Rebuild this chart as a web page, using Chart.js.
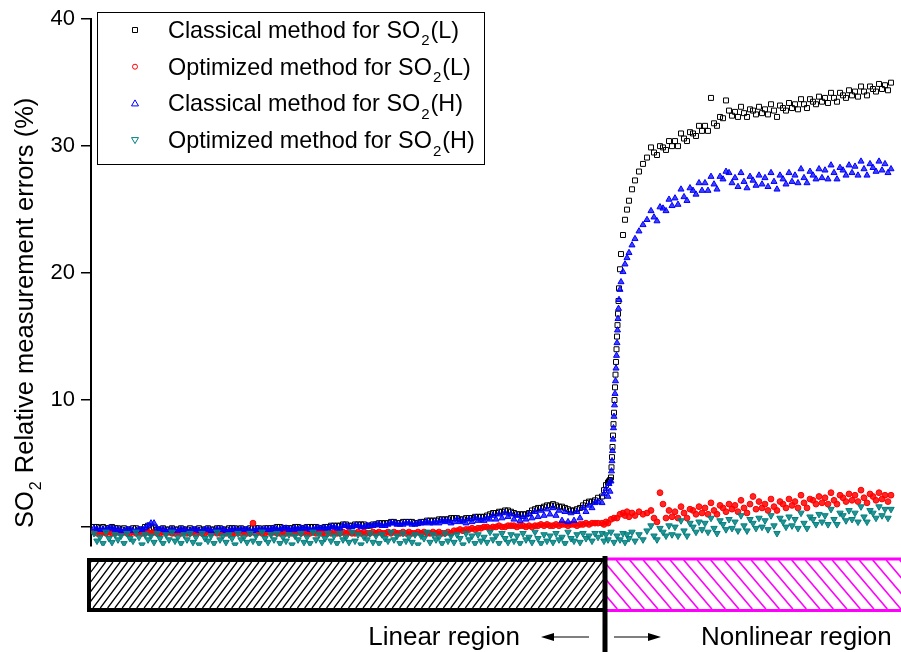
<!DOCTYPE html>
<html>
<head>
<meta charset="utf-8">
<title>SO2 relative measurement errors</title>
<script src="https://cdn.jsdelivr.net/npm/chart.js@4/dist/chart.umd.min.js"></script>
<style>
  html, body { margin: 0; padding: 0; background: #fff; }
  #wrap { width: 901px; height: 652px; }
</style>
</head>
<body>
<div id="wrap"><canvas id="errChart" width="901" height="652"></canvas></div>
<script>
// sample number along the measurement (x)
const sampleNo = [
  3, 6, 9, 12, 15, 18, 21, 24, 27, 30,
  33, 36, 39, 42, 45, 48, 51, 54, 57, 60,
  63, 66, 69, 72, 75, 78, 81, 84, 87, 90,
  93, 96, 99, 102, 105, 108, 111, 114, 117, 120,
  123, 126, 129, 132, 135, 138, 141, 144, 147, 150,
  153, 156, 159, 162, 165, 168, 171, 174, 177, 180,
  183, 186, 189, 192, 195, 198, 201, 204, 207, 210,
  213, 216, 219, 222, 225, 228, 231, 234, 237, 240,
  243, 246, 249, 252, 255, 258, 261, 264, 267, 270,
  273, 276, 279, 282, 285, 288, 291, 294, 297, 300,
  303, 306, 309, 312, 315, 318, 321, 324, 327, 330,
  333, 336, 339, 342, 345, 348, 351, 354, 357, 360,
  363, 366, 369, 372, 375, 378, 381, 384, 387, 390,
  393, 396, 399, 402, 405, 408, 411, 414, 417, 420,
  423, 426, 429, 432, 435, 438, 441, 444, 447, 450,
  453, 456, 459, 462, 465, 468, 471, 474, 477, 480,
  483, 486, 489, 492, 495, 498, 501, 504, 507,
  511, 513, 515, 517, 518, 519, 520, 520.5, 521, 521.5, 522, 522.5, 523, 523.5, 524, 524.5, 525, 525.5,
  526, 526.5, 527, 527.5, 528, 529, 530, 532, 534, 536, 538, 541, 544, 548, 552, 556,
  560, 563, 566, 569, 572, 575, 578, 581, 584, 587,
  590, 593, 596, 599, 602, 605, 608, 611, 614, 617,
  620, 623, 626, 629, 632, 635, 638, 641, 644, 647,
  650, 653, 656, 659, 662, 665, 668, 671, 674, 677,
  680, 683, 686, 689, 692, 695, 698, 701, 704, 707,
  710, 713, 716, 719, 722, 725, 728, 731, 734, 737,
  740, 743, 746, 749, 752, 755, 758, 761, 764, 767,
  770, 773, 776, 779, 782, 785, 788, 791, 794, 797,
  800
];

// Classical method for SO2(L)
const classicalL = [
  0.0, 0.0, -0.1, 0.0, -0.1, -0.1, 0.0, -0.1, -0.1, -0.2,
  -0.1, -0.2, -0.2, -0.1, -0.1, -0.2, -0.2, 0.0, 0.1, -0.1,
  -0.1, -0.2, -0.2, -0.1, -0.2, -0.2, -0.1, -0.2, -0.2, -0.1,
  -0.2, -0.2, -0.1, -0.2, -0.2, -0.1, -0.2, -0.2, -0.1, -0.2,
  -0.2, -0.1, -0.1, -0.2, -0.2, -0.1, -0.1, -0.1, -0.2, -0.1,
  -0.2, -0.2, -0.1, -0.1, -0.1, -0.1, -0.2, -0.1, -0.1, -0.1,
  -0.1, 0.0, 0.0, -0.1, -0.1, -0.1, -0.1, 0.0, 0.0, -0.1,
  -0.1, 0.0, 0.0, 0.0, 0.0, -0.1, -0.1, 0.0, 0.0, 0.1,
  0.1, 0.1, 0.1, 0.2, 0.2, 0.1, 0.1, 0.2, 0.2, 0.2,
  0.2, 0.1, 0.1, 0.2, 0.2, 0.3, 0.3, 0.3, 0.3, 0.4,
  0.4, 0.3, 0.3, 0.4, 0.4, 0.4, 0.4, 0.3, 0.3, 0.4,
  0.4, 0.5, 0.5, 0.5, 0.5, 0.6, 0.6, 0.6, 0.6, 0.7,
  0.7, 0.7, 0.6, 0.6, 0.7, 0.7, 0.7, 0.8, 0.8, 0.8,
  0.8, 0.9, 1.0, 1.1, 1.1, 1.2, 1.2, 1.3, 1.3, 1.2,
  1.1, 1.0, 1.0, 1.0, 1.0, 1.1, 1.3, 1.4, 1.5, 1.5,
  1.6, 1.7, 1.7, 1.8, 1.7, 1.6, 1.6, 1.5, 1.4, 1.3,
  1.3, 1.4, 1.5, 1.7, 1.9, 2.0, 2.0, 2.1, 2.3,
  2.4, 2.9, 3.3, 3.5, 3.6, 3.7, 3.9, 4.7, 5.5, 6.3, 7.2, 8.1, 9.0, 10.0, 11.0, 12.0, 13.0, 14.0,
  15.0, 15.9, 16.8, 17.8, 18.8, 20.3, 21.5, 23.0, 24.2, 25.0, 25.7, 26.6, 27.3, 28.0, 28.6, 29.1,
  29.9, 29.5, 29.3, 30.0, 29.9, 29.7, 30.4, 30.0, 30.4, 30.0,
  31.0, 30.6, 30.4, 31.1, 31.0, 30.8, 31.6, 31.2, 31.6, 31.2,
  33.8, 31.8, 31.6, 32.3, 32.2, 33.6, 32.8, 32.4, 32.7, 32.3,
  33.1, 32.6, 32.3, 32.9, 32.8, 32.5, 33.1, 32.6, 32.9, 32.5,
  33.3, 32.8, 32.3, 33.2, 33.0, 32.8, 33.4, 33.0, 33.3, 32.9,
  33.7, 33.3, 33.0, 33.7, 33.5, 33.3, 33.9, 33.5, 33.8, 33.4,
  34.2, 33.8, 33.5, 34.2, 34.0, 33.8, 34.4, 34.0, 34.3, 33.9,
  34.7, 34.3, 34.0, 34.7, 34.5, 34.3, 34.9, 34.5, 34.8, 34.4,
  35.0
];

// Optimized method for SO2(L)
const optimizedL = [
  -0.4, -0.5, -0.5, -0.4, -0.5, -0.4, -0.5, -0.5, -0.4, -0.5,
  -0.4, -0.5, -0.5, -0.4, -0.5, -0.4, -0.5, -0.5, -0.4, -0.5,
  -0.4, -0.5, -0.5, -0.4, -0.5, -0.4, -0.5, -0.5, -0.4, -0.5,
  -0.4, -0.5, -0.5, -0.4, -0.5, -0.4, -0.5, -0.5, -0.4, -0.5,
  -0.4, -0.5, -0.5, -0.4, -0.5, -0.4, -0.5, -0.5, -0.4, -0.5,
  -0.4, -0.5, -0.5, 0.3, -0.5, -0.4, -0.5, -0.5, -0.4, -0.5,
  -0.4, -0.5, -0.5, -0.4, -0.5, -0.4, -0.5, -0.5, -0.4, -0.5,
  -0.4, -0.5, -0.5, -0.4, -0.5, -0.4, -0.5, -0.5, -0.4, -0.5,
  -0.4, -0.5, -0.5, -0.4, -0.5, -0.4, -0.5, -0.5, -0.4, -0.5,
  -0.4, -0.5, -0.5, -0.4, -0.5, -0.4, -0.5, -0.5, -0.4, -0.5,
  -0.4, -0.5, -0.5, -0.4, -0.5, -0.4, -0.5, -0.5, -0.4, -0.5,
  -0.4, -0.5, -0.5, -0.4, -0.5, -0.4, -0.5, -0.5, -0.4, -0.5,
  -0.3, -0.3, -0.2, -0.3, -0.2, -0.2, -0.1, -0.2, -0.1, -0.1,
  0.0, 0.0, -0.1, 0.0, 0.0, 0.1, 0.0, 0.0, 0.1, 0.1,
  0.1, 0.0, 0.1, 0.1, 0.0, 0.1, 0.0, 0.1, 0.1, 0.2,
  0.1, 0.2, 0.1, 0.1, 0.2, 0.1, 0.2, 0.2, 0.1, 0.2,
  0.2, 0.1, 0.2, 0.2, 0.3, 0.2, 0.3, 0.3, 0.3,
  0.3, 0.2, 0.4, 0.3, null, null, 0.6, null, null, null, null, null, 0.7, null, null, null, null, null,
  0.7, null, null, null, null, 1.0, null, 1.1, 0.9, 1.2, 0.8, 1.1, 0.9, 1.2, 1.0, 1.1,
  1.3, 0.7, 0.4, 2.7, 1.8, 0.7, 1.3, 0.8, 1.2, 0.7,
  1.6, 1.1, 0.7, 1.4, 1.3, 1.0, 1.6, 1.1, 1.5, 1.0,
  1.9, 1.3, 1.0, 1.7, 1.5, 1.2, 1.8, 1.4, 1.7, 1.2,
  2.1, 1.5, 1.1, 1.8, 2.4, 1.4, 2.0, 1.5, 1.8, 1.3,
  2.2, 1.6, 1.3, 2.0, 1.8, 1.5, 2.2, 1.7, 2.0, 1.5,
  2.5, 1.9, 1.5, 2.2, 2.1, 1.8, 2.4, 1.9, 2.3, 1.8,
  2.7, 2.1, 1.8, 2.5, 2.3, 2.0, 2.6, 2.1, 2.5, 2.0,
  2.9, 2.3, 1.9, 2.6, 2.4, 2.1, 2.7, 2.2, 2.5, 2.0,
  2.5
];

// Classical method for SO2(H)
const classicalH = [
  -0.1, -0.2, -0.2, -0.2, -0.2, -0.1, -0.1, -0.2, -0.2, -0.3,
  -0.3, -0.2, -0.2, -0.3, -0.3, -0.2, -0.2, -0.1, 0.1, 0.3,
  0.3, -0.1, -0.2, -0.2, -0.3, -0.3, -0.2, -0.3, -0.3, -0.2,
  -0.2, -0.3, -0.3, -0.2, -0.2, -0.3, -0.3, -0.2, -0.2, -0.3,
  -0.3, -0.2, -0.2, -0.2, -0.3, -0.3, -0.2, -0.2, -0.3, -0.2,
  -0.2, -0.2, -0.3, -0.3, -0.2, -0.2, -0.2, -0.2, -0.2, -0.2,
  -0.1, -0.2, -0.2, -0.1, -0.1, -0.2, -0.2, -0.1, -0.2, -0.1,
  -0.1, -0.1, -0.2, -0.2, -0.1, -0.1, -0.1, -0.1, -0.1, 0.0,
  0.0, -0.1, -0.1, 0.1, 0.1, 0.0, 0.0, 0.1, 0.1, 0.0,
  0.0, 0.1, 0.1, 0.1, 0.2, 0.2, 0.1, 0.1, 0.2, 0.3,
  0.3, 0.2, 0.2, 0.2, 0.3, 0.3, 0.2, 0.2, 0.3, 0.3,
  0.3, 0.4, 0.3, 0.3, 0.4, 0.3, 0.5, 0.4, 0.5, 0.3,
  0.4, 0.6, 0.4, 0.5, 0.3, 0.6, 0.4, 0.7, 0.5, 0.6,
  0.5, 0.7, 0.6, 0.9, 0.6, 1.0, 0.7, 1.1, 0.8, 1.0,
  0.6, 0.9, 0.5, 0.8, 0.6, 1.0, 0.7, 1.2, 0.8, 1.3,
  0.9, 1.4, 1.0, 1.5, 0.9, 1.3, 0.5, 1.2, 0.4, 1.1,
  0.5, 1.2, 0.7, 1.5, 1.2, 1.7, 1.5, 1.9, 2.0,
  1.9, 2.6, 3.0, 2.4, 3.4, 2.8, 3.6, 4.4, 5.2, 6.0, 6.9, 7.8, 8.7, 9.6, 10.5, 11.5, 12.5, 13.5,
  14.5, 15.5, 16.4, 17.2, 17.9, 18.7, 19.3, 20.1, 20.7, 21.2, 21.6, 22.2, 22.7, 23.3, 23.8, 24.2,
  24.9, 24.4, 24.1, 25.2, 25.1, 24.9, 25.8, 25.3, 25.9, 25.4,
  26.6, 26.0, 25.7, 26.7, 26.5, 26.2, 27.1, 26.5, 27.1, 26.5,
  27.6, 27.0, 26.6, 27.6, 27.4, 28.0, 27.9, 27.1, 27.5, 26.8,
  27.9, 27.2, 26.7, 27.6, 27.3, 26.9, 27.7, 27.0, 27.5, 26.8,
  27.9, 27.2, 26.6, 27.7, 27.4, 27.0, 27.9, 27.2, 27.7, 27.1,
  28.2, 27.5, 27.1, 28.0, 27.7, 27.4, 28.2, 27.5, 28.1, 27.4,
  28.5, 27.9, 27.4, 28.3, 28.1, 27.7, 28.5, 27.9, 28.4, 27.7,
  28.8, 28.2, 27.7, 28.6, 28.3, 28.0, 28.8, 28.1, 28.6, 27.9,
  28.2
];

// Optimized method for SO2(H)
const optimizedH = [
  -0.5, -1.1, -0.8, -1.3, -0.4, -0.9, -1.2, -0.6, -1.0, -0.7,
  -1.3, -0.5, -0.9, -1.1, -0.4, -0.8, -1.4, -0.6, -1.0, -0.7,
  -1.2, -0.5, -0.9, -1.3, -0.6, -1.0, -0.4, -1.1, -0.8, -1.3,
  -0.6, -1.0, -0.5, -1.2, -0.8, -1.4, -0.5, -0.9, -1.1, -0.7,
  -1.3, -0.4, -1.0, -0.7, -1.2, -0.6, -0.9, -1.4, -0.5, -1.0,
  -0.8, -1.2, -0.5, -1.1, -0.7, -1.3, -0.4, -0.9, -1.2, -0.6,
  -1.0, -0.5, -1.3, -0.8, -1.1, -0.6, -1.4, -0.7, -1.0, -0.5,
  -1.2, -0.8, -1.3, -0.4, -1.0, -0.6, -1.2, -0.9, -0.5, -1.1,
  -0.7, -1.3, -0.5, -1.0, -0.8, -1.2, -0.4, -1.1, -0.6, -1.4,
  -0.8, -1.0, -0.5, -1.2, -0.7, -1.3, -0.6, -0.9, -1.1, -0.4,
  -1.0, -0.7, -1.3, -0.5, -1.1, -0.8, -1.2, -0.6, -1.4, -0.7,
  -0.9, -0.4, -1.2, -0.6, -1.0, -0.8, -1.3, -0.5, -1.1, -0.7,
  -1.2, -0.6, -0.9, -1.4, -0.5, -1.0, -0.7, -1.3, -0.6, -1.1,
  -0.8, -1.2, -0.4, -1.0, -0.7, -1.3, -0.5, -0.9, -1.2, -0.6,
  -1.1, -0.7, -1.3, -0.5, -1.0, -0.8, -1.2, -0.4, -0.9, -1.3,
  -0.6, -1.1, -0.7, -1.2, -0.5, -1.0, -0.8, -1.3, -0.4, -0.9,
  -1.1, -0.6, -1.2, -0.5, -0.9, -0.7, -1.1, -0.5, -0.8,
  -0.5, -1.1, -0.6, -1.0, null, null, -0.4, null, null, null, null, null, -1.2, null, null, null, null, null,
  -0.7, null, null, null, null, -1.0, null, -0.5, -1.2, -0.6, -0.9, -0.4, -1.1, -0.6, -1.0, -0.3,
  0.1, -0.7, -1.0, -0.1, -0.4, -0.7, 0.1, -0.6, 0.0, -0.7,
  0.5, -0.3, -0.7, 0.3, 0.0, -0.4, 0.4, -0.2, 0.3, -0.4,
  0.7, -0.1, -0.5, 0.5, 0.2, -0.2, 0.6, -0.1, 0.4, -0.3,
  0.9, 0.1, -0.3, 0.6, 0.3, -0.1, 0.7, 0.0, 0.5, -0.2,
  0.9, 0.1, -0.5, 0.7, 0.4, 0.0, 0.8, 0.1, 0.6, -0.1,
  1.1, 0.3, -0.1, 0.8, 0.6, 0.2, 1.0, 0.4, 0.9, 0.2,
  1.4, 0.6, 0.2, 1.1, 0.9, 0.5, 1.3, 0.6, 1.1, 0.4,
  1.6, 0.8, 0.4, 1.3, 1.1, 0.7, 1.6, 0.9, 1.4, 0.7,
  1.4
];

const seriesNames = [
  'Classical method for SO₂(L)',
  'Optimized method for SO₂(L)',
  'Classical method for SO₂(H)',
  'Optimized method for SO₂(H)'
];
const yTicks = [0, 10, 20, 30, 40];
const yTitle = 'SO₂ Relative measurement errors (%)';
const regionNames = ['Linear region', 'Nonlinear region'];
const linearEndSample = 514;

const FONT = "'Liberation Sans', Arial, sans-serif";

function points(values) {
  return values.map((v, i) => ({ x: sampleNo[i], y: v }));
}

// draws text where '₂' becomes a small lowered 2
function subText(ctx, text, x, y, size) {
  const parts = text.split('₂');
  ctx.font = size + 'px ' + FONT;
  ctx.fillText(parts[0], x, y);
  x += ctx.measureText(parts[0]).width;
  if (parts.length > 1) {
    const small = Math.round(size * 0.62);
    ctx.font = small + 'px ' + FONT;
    ctx.fillText('2', x + 1, y + size * 0.32);
    x += ctx.measureText('2').width + 2;
    ctx.font = size + 'px ' + FONT;
    ctx.fillText(parts[1], x, y);
  }
}

function hatch(ctx, x0, y0, x1, y1, step, lean, color, lw) {
  ctx.save();
  ctx.beginPath();
  ctx.rect(x0, y0, x1 - x0, y1 - y0);
  ctx.clip();
  ctx.strokeStyle = color;
  ctx.lineWidth = lw;
  const run = (y1 - y0) * lean;
  ctx.beginPath();
  for (let x = x0 - Math.abs(run); x < x1 + Math.abs(run); x += step) {
    ctx.moveTo(x, y1);
    ctx.lineTo(x + run, y0);
  }
  ctx.stroke();
  ctx.restore();
}

function marker(ctx, style, x, y, color) {
  ctx.save();
  ctx.strokeStyle = color;
  ctx.fillStyle = '#fff';
  ctx.lineWidth = 1;
  ctx.beginPath();
  if (style === 'rect') {
    ctx.rect(x - 2.5, y - 2.5, 5, 5);
  } else if (style === 'circle') {
    ctx.arc(x, y, 2.5, 0, Math.PI * 2);
  } else if (style === 'up') {
    ctx.moveTo(x, y - 3.5); ctx.lineTo(x + 3.5, y + 2.5); ctx.lineTo(x - 3.5, y + 2.5); ctx.closePath();
  } else {
    ctx.moveTo(x, y + 3.5); ctx.lineTo(x + 3.5, y - 2.5); ctx.lineTo(x - 3.5, y - 2.5); ctx.closePath();
  }
  ctx.fill();
  ctx.stroke();
  ctx.restore();
}

const decorations = {
  id: 'decorations',
  afterDraw(chart) {
    const ctx = chart.ctx;
    const split = chart.scales.x.getPixelForValue(linearEndSample);
    ctx.save();
    ctx.fillStyle = '#000';
    ctx.textBaseline = 'alphabetic';

    // y-axis title
    ctx.save();
    ctx.translate(33, 528);
    ctx.rotate(-Math.PI / 2);
    ctx.textAlign = 'left';
    subText(ctx, yTitle, 0, 0, 25.5);
    ctx.restore();

    // legend
    ctx.fillStyle = '#fff';
    ctx.fillRect(97.5, 12.5, 387, 152);
    ctx.strokeStyle = '#000';
    ctx.lineWidth = 1;
    ctx.strokeRect(97.5, 12.5, 387, 152);
    const styles = ['rect', 'circle', 'up', 'down'];
    chart.data.datasets.forEach((ds, i) => {
      const cy = 30 + i * 36.7;
      marker(ctx, styles[i], 135, cy, ds.borderColor);
      ctx.fillStyle = '#000';
      ctx.textAlign = 'left';
      subText(ctx, seriesNames[i], 168, cy + 8, 23.4);
    });

    // region bars
    const top = 560, bottom = 610;
    hatch(ctx, 91, top + 2, split, bottom - 2, 7.3, 0.75, '#000', 1.3);
    ctx.strokeStyle = '#000';
    ctx.lineWidth = 4;
    ctx.strokeRect(89, top, split - 89, bottom - top);

    hatch(ctx, split, top, 901, bottom - 1, 13.5, -0.85, '#ff00ff', 1.6);
    ctx.strokeStyle = '#ff00ff';
    ctx.lineWidth = 3;
    ctx.beginPath();
    ctx.moveTo(split, top - 1); ctx.lineTo(901, top - 1);
    ctx.moveTo(split, bottom + 0.5); ctx.lineTo(901, bottom + 0.5);
    ctx.stroke();

    // boundary line
    ctx.strokeStyle = '#000';
    ctx.lineWidth = 5;
    ctx.beginPath();
    ctx.moveTo(split, 556); ctx.lineTo(split, 652);
    ctx.stroke();

    // arrows
    const ay = 637;
    ctx.lineWidth = 1.2;
    ctx.beginPath();
    ctx.moveTo(split - 16, ay); ctx.lineTo(split - 56, ay);
    ctx.moveTo(split + 9, ay); ctx.lineTo(split + 48, ay);
    ctx.stroke();
    ctx.fillStyle = '#000';
    ctx.beginPath();
    ctx.moveTo(split - 64, ay); ctx.lineTo(split - 51, ay - 4); ctx.lineTo(split - 51, ay + 4); ctx.closePath();
    ctx.moveTo(split + 56, ay); ctx.lineTo(split + 43, ay - 4); ctx.lineTo(split + 43, ay + 4); ctx.closePath();
    ctx.fill();

    // region labels
    ctx.font = '26px ' + FONT;
    ctx.textAlign = 'right';
    ctx.fillText(regionNames[0], split - 85, 645);
    ctx.textAlign = 'left';
    ctx.fillText(regionNames[1], split + 96, 645);
    ctx.restore();
  }
};

const ctx = document.getElementById('errChart').getContext('2d');

new Chart(ctx, {
  type: 'scatter',
  data: {
    datasets: [
      {
        label: seriesNames[0], data: points(classicalL), order: 3,
        pointStyle: 'rect', pointRadius: 3.5, borderColor: '#000', backgroundColor: 'rgba(255,255,255,0)', borderWidth: 1
      },
      {
        label: seriesNames[1], data: points(optimizedL), order: 2,
        pointStyle: 'circle', pointRadius: 2.9, borderColor: '#ff0000', backgroundColor: 'rgba(255,0,0,0.85)', borderWidth: 1
      },
      {
        label: seriesNames[2], data: points(classicalH), order: 1,
        pointStyle: 'triangle', pointRadius: 3.5, borderColor: '#0000ff', backgroundColor: 'rgba(0,0,255,0.75)', borderWidth: 1
      },
      {
        label: seriesNames[3], data: points(optimizedH), order: 0,
        pointStyle: 'triangle', pointRotation: 180, pointRadius: 3.7, borderColor: '#008080', backgroundColor: 'rgba(0,128,128,0.85)', borderWidth: 1
      }
    ]
  },
  options: {
    responsive: false,
    animation: false,
    layout: { padding: { top: 15, right: 0, bottom: 106, left: 0 } },
    plugins: {
      legend: { display: false },
      tooltip: { enabled: false }
    },
    scales: {
      x: { type: 'linear', min: 0, max: 805, display: false },
      y: {
        min: -1.5,
        max: 40,
        afterFit: (scale) => { scale.width = 91; },
        afterBuildTicks: (scale) => { scale.ticks = yTicks.map(v => ({ value: v })); },
        ticks: {
          callback: (v) => (v === 0 ? '' : v),
          color: '#000',
          padding: 6,
          font: { family: FONT, size: 22 }
        },
        grid: { drawOnChartArea: false, drawTicks: true, tickLength: 10, color: '#000', lineWidth: 1.5 },
        border: { color: '#000', width: 2 }
      }
    }
  },
  plugins: [decorations]
});
</script>
</body>
</html>
